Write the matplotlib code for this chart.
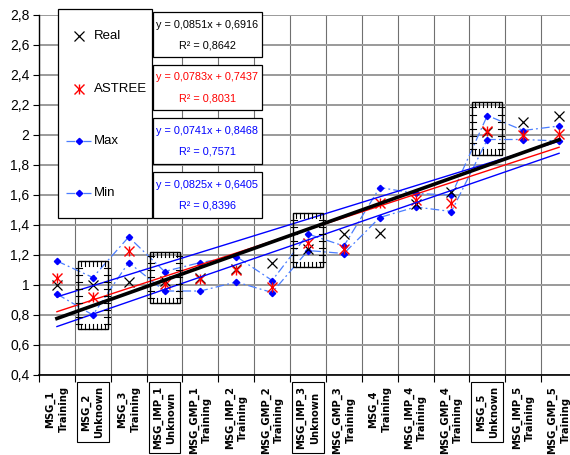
import matplotlib
matplotlib.use("Agg")
import matplotlib.pyplot as plt
from matplotlib import font_manager
from matplotlib.patches import Rectangle
from matplotlib.lines import Line2D
import numpy as np

categories = ["MSG_1\nTraining", "MSG_2\nUnknown", "MSG_3\nTraining", "MSG_IMP_1\nUnknown",
              "MSG_GMP_1\nTraining", "MSG_IMP_2\nTraining", "MSG_GMP_2\nTraining",
              "MSG_IMP_3\nUnknown", "MSG_GMP_3\nTraining", "MSG_4\nTraining",
              "MSG_IMP_4\nTraining", "MSG_GMP_4\nTraining", "MSG_5\nUnknown",
              "MSG_IMP_5\nTraining", "MSG_GMP_5\nTraining"]
real = [1.00, 1.00, 1.02, 1.03, 1.05, 1.11, 1.15, 1.24, 1.34, 1.35, 1.54, 1.62, 2.02, 2.09, 2.13]
astree = [1.05, 0.92, 1.23, 1.01, 1.04, 1.10, 0.99, 1.28, 1.24, 1.55, 1.57, 1.55, 2.03, 2.00, 2.01]
v_max = [1.16, 1.05, 1.32, 1.09, 1.15, 1.19, 1.03, 1.34, 1.26, 1.65, 1.61, 1.60, 2.13, 2.03, 2.06]
v_min = [0.94, 0.80, 1.15, 0.96, 0.96, 1.02, 0.95, 1.23, 1.21, 1.45, 1.52, 1.49, 1.97, 1.97, 1.96]

# trendlines (slope, intercept, R2) as printed on the chart
trend_real = (0.0851, 0.6916, 0.8642)
trend_astree = (0.0783, 0.7437, 0.8031)
trend_max = (0.0741, 0.8468, 0.7571)
trend_min = (0.0825, 0.6405, 0.8396)

# "Unknown" samples highlighted with a box: (category no., low, high)
unknown_boxes = [(2, 0.71, 1.16), (4, 0.88, 1.22), (8, 1.12, 1.48), (13, 1.87, 2.22)]
unknown_idx = [1, 3, 7, 12]

W, H = 570, 455
fig = plt.figure(figsize=(W / 100, H / 100), dpi=100)
plt.rcParams["font.family"] = ["Liberation Sans", "DejaVu Sans"]

try:
    font_manager.findfont(font_manager.FontProperties(family="Liberation Sans Narrow"),
                          fallback_to_default=False)
    eq_family, eq_size = "Liberation Sans Narrow", 9
except Exception:
    eq_family, eq_size = "Liberation Sans", 7.8

AX_L, AX_R, AX_T, AX_B = 39, 577, 15, 375
ax = fig.add_axes([AX_L / W, 1 - AX_B / H, (AX_R - AX_L) / W, (AX_B - AX_T) / H])

x = np.arange(1, len(categories) + 1)
BLUE = "#0000ff"
LBLUE = "#4a7dff"
DASHDOT = (0, (7, 2.5, 1.5, 2.5))

ax.plot(x, v_max, color=LBLUE, lw=0.9, ls=DASHDOT, marker="D", ms=3.2,
        mfc=BLUE, mec=BLUE, zorder=3)
ax.plot(x, v_min, color=LBLUE, lw=0.9, ls=DASHDOT, marker="D", ms=3.2,
        mfc=BLUE, mec=BLUE, zorder=3)
ax.plot(x, real, ls="none", marker="x", ms=7.5, mew=0.9, color="black", zorder=4)
ax.plot(x, astree, ls="none", marker="x", ms=7, mew=1.0, color="red", zorder=4)
ax.plot(x, astree, ls="none", marker="|", ms=7, mew=1.0, color="red", zorder=4)

xt = np.array([1, 15])
for (m, b, _), col, lw in [(trend_max, BLUE, 1.0), (trend_min, BLUE, 1.0),
                           (trend_astree, "red", 1.0), (trend_real, "black", 2.6)]:
    ax.plot(xt, m * xt + b, color=col, lw=lw, zorder=5)

# boxes with ladder ticks around unknown samples
px_x = 1 / ((AX_R - AX_L) / 15)
px_y = 2.4 / (AX_B - AX_T)
for cat, lo, hi in unknown_boxes:
    x0, x1 = cat - 15 * px_x, cat + 15 * px_x
    ax.add_patch(Rectangle((x0, lo), x1 - x0, hi - lo, fill=False, ec="black",
                           lw=1.0, zorder=6))
    for tx in np.arange(x0 + 3 * px_x, x1 - 1 * px_x, 4 * px_x):
        ax.plot([tx, tx], [hi, hi - 5 * px_y], color="black", lw=0.8, zorder=6)
        ax.plot([tx, tx], [lo, lo + 5 * px_y], color="black", lw=0.8, zorder=6)
    for ty in np.arange(lo + 5 * px_y, hi - 2 * px_y, 7 * px_y):
        ax.plot([x0 - 2 * px_x, x0 + 4 * px_x], [ty, ty], color="black", lw=0.8, zorder=6)
        ax.plot([x1 - 4 * px_x, x1 + 2 * px_x], [ty, ty], color="black", lw=0.8, zorder=6)

ax.set_xlim(0.5, 15.5)
ax.set_ylim(0.4, 2.8)
yt = np.round(np.arange(0.4, 2.81, 0.2), 1)
ax.set_yticks(yt)
ax.set_yticklabels([f"{v:g}".replace(".", ",") for v in yt], fontsize=10)
ax.set_xticks(x)
ax.set_xticklabels(categories, rotation=90, fontsize=7.2, fontweight="bold",
                   family="DejaVu Sans", va="top", ha="center",
                   multialignment="center", linespacing=1.4)
ax.set_xticks(np.arange(0.5, 15.6, 1), minor=True)
ax.tick_params(axis="x", which="major", length=0, pad=8)
ax.tick_params(axis="x", which="minor", length=5, direction="out", width=0.8)
ax.tick_params(axis="y", length=4, width=0.8, pad=3)
for i in unknown_idx:
    ax.get_xticklabels()[i].set_bbox(dict(boxstyle="square,pad=0.4", fc="white",
                                          ec="black", lw=0.8))

ax.grid(True, axis="y", which="major", color="#9a9a9a", lw=1.4)
ax.grid(True, axis="x", which="minor", color="#707070", lw=0.8)
ax.set_axisbelow(True)
for s in ["top", "right"]:
    ax.spines[s].set_visible(False)
ax.spines["left"].set_linewidth(1.0)
ax.spines["bottom"].set_linewidth(1.2)


def fx(px):
    return px / W


def fy(py):
    return 1 - py / H


# legend
fig.add_artist(Rectangle((fx(58), fy(218)), fx(152) - fx(58), fy(9) - fy(218),
                         transform=fig.transFigure, fc="white", ec="black", lw=0.9, zorder=10))
leg_rows = [("Real", 36), ("ASTREE", 89), ("Max", 141), ("Min", 193)]
for name, yy in leg_rows:
    if name == "Real":
        fig.add_artist(Line2D([fx(79)], [fy(yy)], marker="x", ms=7.5, mew=0.9,
                              color="black", ls="none", transform=fig.transFigure, zorder=11))
    elif name == "ASTREE":
        for mk in ["x", "|"]:
            fig.add_artist(Line2D([fx(79)], [fy(yy)], marker=mk, ms=7, mew=1.0,
                                  color="red", ls="none", transform=fig.transFigure, zorder=11))
    else:
        fig.add_artist(Line2D([fx(66), fx(91)], [fy(yy), fy(yy)], color=LBLUE, lw=0.9,
                              ls=DASHDOT, transform=fig.transFigure, zorder=11))
        fig.add_artist(Line2D([fx(79)], [fy(yy)], marker="D", ms=3.2, color=BLUE,
                              ls="none", transform=fig.transFigure, zorder=11))
    fig.text(fx(94), fy(yy), name, fontsize=9.5, va="center", ha="left", zorder=12)

# equation boxes
eq_rows = [(trend_real, "black", 12, 57), (trend_astree, "red", 65, 110),
           (trend_max, BLUE, 118, 164), (trend_min, BLUE, 172, 218)]
for (m, b, r2), col, top, bot in eq_rows:
    fig.add_artist(Rectangle((fx(153), fy(bot)), fx(262) - fx(153), fy(top) - fy(bot),
                             transform=fig.transFigure, fc="white", ec="black", lw=0.9,
                             zorder=10))
    mid = (top + bot) / 2
    eq = f"y = {m:.4f}x + {b:.4f}".replace(".", ",")
    fig.text(fx(207.5), fy(mid - 10), eq, color=col, fontsize=eq_size, family=eq_family,
             ha="center", va="center", zorder=12)
    fig.text(fx(207.5), fy(mid + 11), f"R² = {r2:.4f}".replace(".", ","), color=col,
             fontsize=eq_size, family=eq_family, ha="center", va="center", zorder=12)

fig.savefig("out.png", dpi=100)
